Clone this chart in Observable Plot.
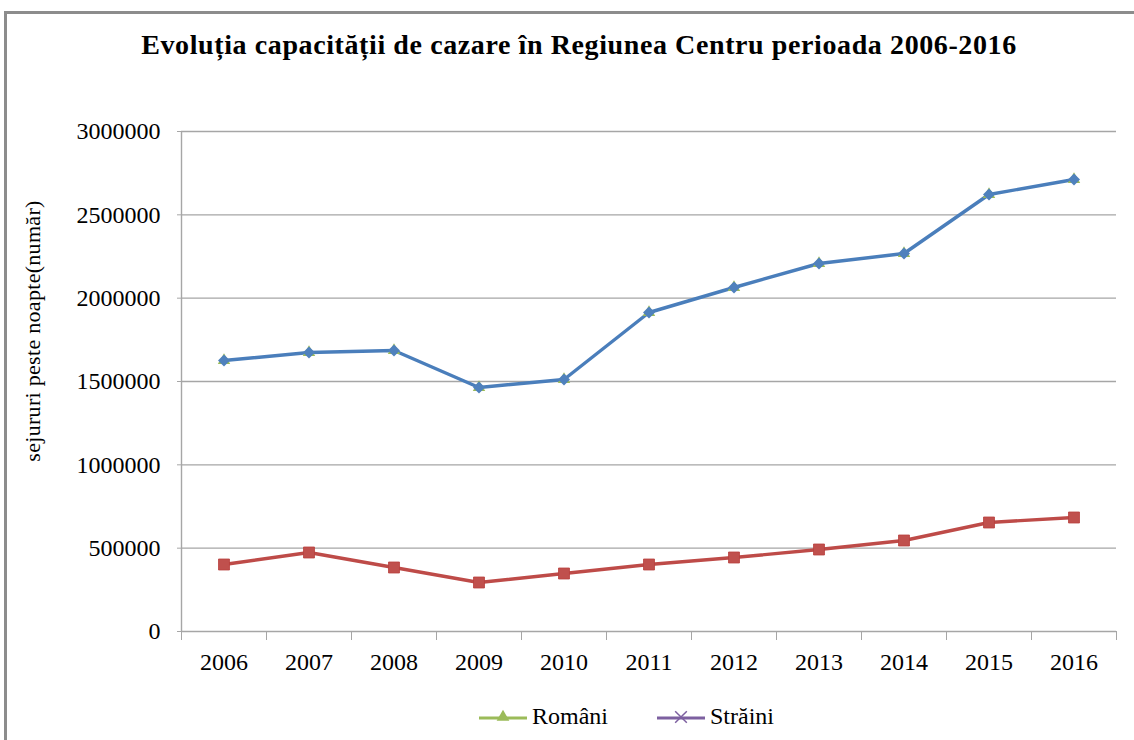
<!DOCTYPE html>
<html><head><meta charset="utf-8">
<script src="https://cdn.jsdelivr.net/npm/d3@7"></script>
<script src="https://cdn.jsdelivr.net/npm/@observablehq/plot@0.6"></script>
<style>
body{margin:0;background:#fff;width:1134px;height:740px;overflow:hidden;position:relative;font-family:"Liberation Serif","Times New Roman",serif;color:#000;}
#frame{position:absolute;left:4px;top:11px;width:1140px;height:740px;border-left:3px solid #8c8c8c;border-top:3px solid #8c8c8c;}
#title{position:absolute;top:29px;left:12px;width:1134px;text-align:center;font-weight:bold;font-size:28px;letter-spacing:0.6px;white-space:nowrap;}
#ylabel{position:absolute;left:33px;top:331px;transform:translate(-50%,-50%) rotate(-90deg);font-size:22px;letter-spacing:0.3px;white-space:nowrap;}
#chart{position:absolute;left:0;top:100px;}
#legend{position:absolute;top:703px;left:478px;display:flex;align-items:center;font-size:24px;white-space:nowrap;}
#legend .item{display:flex;align-items:center;}
#legend svg{display:block;margin-right:4px;}
</style>
</head><body>
<div id="frame"></div>
<div id="title">Evoluția capacității de cazare în Regiunea Centru perioada 2006-2016</div>
<div id="ylabel">sejururi peste noapte(număr)</div>
<div id="chart"></div>
<div id="legend"></div>
<script>
// ---- data ----
const years = [2006, 2007, 2008, 2009, 2010, 2011, 2012, 2013, 2014, 2015, 2016];
const seriesBlue = [1626000, 1674000, 1686000, 1464000, 1512000, 1914000, 2064000, 2208000, 2268000, 2622000, 2712000];
const romani = [1626000, 1674000, 1686000, 1464000, 1512000, 1914000, 2064000, 2208000, 2268000, 2622000, 2712000];
const seriesRed = [402000, 474000, 384000, 294000, 348000, 402000, 444000, 492000, 546000, 654000, 684000];
const yTicks = [0, 500000, 1000000, 1500000, 2000000, 2500000, 3000000];
const legendNames = ["Români", "Străini"];

const blueData = years.map((year, i) => ({year, value: seriesBlue[i]}));
const romaniData = years.map((year, i) => ({year, value: romani[i]}));
const redData = years.map((year, i) => ({year, value: seriesRed[i]}));
const xMin = years[0] - 0.5, xMax = years[years.length - 1] + 0.5;
const boundaries = [...years.map(y => y - 0.5), xMax];

const grid = "#a6a6a6";
const chart = Plot.plot({
  width: 1134, height: 580,
  marginLeft: 181, marginRight: 18, marginTop: 31, marginBottom: 49,
  x: {type: "linear", domain: [xMin, xMax]},
  y: {domain: [0, 3000000]},
  style: {fontFamily: "'Liberation Serif', 'Times New Roman', serif", fontSize: "24px", color: "#000", background: "transparent"},
  marks: [
    Plot.ruleY(yTicks, {stroke: grid, strokeWidth: 1.4}),
    Plot.ruleX([xMin], {stroke: grid, strokeWidth: 1.4}),
    Plot.axisY({ticks: yTicks, tickSize: 4, tickFormat: () => "", stroke: grid, label: null}),
    Plot.axisY({ticks: yTicks, tickSize: 0, tickPadding: 21, tickFormat: d => String(d), label: null}),
    Plot.axisX({ticks: boundaries, tickSize: 9, tickFormat: () => "", stroke: grid, label: null}),
    Plot.axisX({ticks: years, tickSize: 0, tickPadding: 21, tickFormat: d => String(d), label: null}),
    Plot.line(redData, {x: "year", y: "value", stroke: "#BE4B48", strokeWidth: 3.4}),
    Plot.dot(redData, {x: "year", y: "value", symbol: "square", r: 6.2, fill: "#C0504D", stroke: "#B9403D", strokeWidth: 0.8}),
    Plot.line(blueData, {x: "year", y: "value", stroke: "#4A7EBB", strokeWidth: 3.4}),
    Plot.dot(romaniData, {x: "year", y: "value", symbol: "triangle", r: 4.6, fill: "#9BBB59"}),
    Plot.dot(blueData, {x: "year", y: "value", symbol: "diamond2", r: 5.4, fill: "#4F81BD"})
  ]
});
document.getElementById("chart").appendChild(chart);

// legend
const legendStyles = [
  {color: "#9BBB59", symbol: d3.symbolTriangle, fill: true},
  {color: "#7D60A0", symbol: d3.symbolTimes, fill: false}
];
const legend = document.getElementById("legend");
legendNames.forEach((name, i) => {
  const s = legendStyles[i];
  const item = document.createElement("div");
  item.className = "item";
  if (i > 0) item.style.marginLeft = "48px";
  const svg = d3.create("svg").attr("width", 50).attr("height", 20);
  svg.append("line").attr("x1", 1).attr("x2", 49).attr("y1", 11).attr("y2", 11).attr("stroke", s.color).attr("stroke-width", 3);
  svg.append("path").attr("transform", "translate(25,10)")
    .attr("d", d3.symbol(s.symbol, s.fill ? 70 : 90)())
    .attr("fill", s.fill ? s.color : "none").attr("stroke", s.color).attr("stroke-width", s.fill ? 0 : 1.5);
  item.appendChild(svg.node());
  const t = document.createElement("span");
  t.textContent = name;
  item.appendChild(t);
  legend.appendChild(item);
});
</script>
</body></html>
